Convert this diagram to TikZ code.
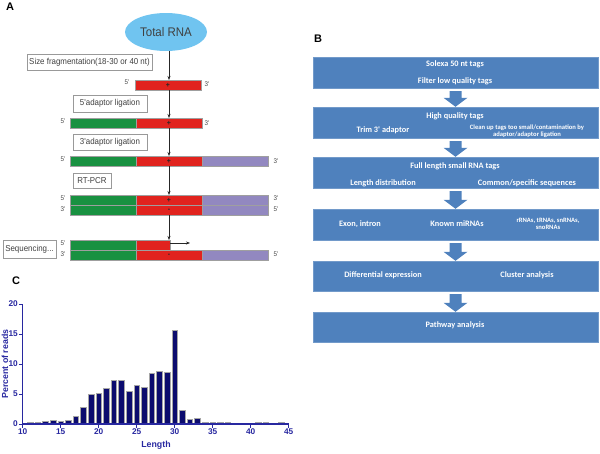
\documentclass[tikz,border=0pt]{standalone}
\usepackage{fontspec}
\setmainfont{Liberation Sans}
\newfontfamily\afont[FakeStretch=0.92]{Liberation Sans}
\newfontfamily\cfont{Carlito}
\usetikzlibrary{arrows.meta,shapes.geometric,calc}
\definecolor{skyb}{RGB}{112,196,240}
\definecolor{cred}{RGB}{225,35,30}
\definecolor{cgreen}{RGB}{25,145,65}
\definecolor{cpurple}{RGB}{146,136,192}
\definecolor{bblue}{RGB}{79,129,189}
\definecolor{axblue}{RGB}{40,40,160}
\definecolor{barfill}{RGB}{12,12,110}
\newcommand\bflowarrow[2]{%
  \fill[bblue] ($(#1.south)+(-6,3)$) -- ($(#1.south)+(6,3)$) -- ($(#2.north)+(6,-9)$) -- ($(#2.north)+(12,-9)$) -- (#2.north) -- ($(#2.north)+(-12,-9)$) -- ($(#2.north)+(-6,-9)$) -- cycle;}
\begin{document}
\begin{tikzpicture}[x=1pt,y=-1pt,
  seg/.style={draw=gray!75, line width=0.4pt, minimum height=10pt, inner sep=0pt, outer sep=0pt, font=\bfseries\fontsize{7}{7}\selectfont, text=black!85},
  stepbx/.style={draw=gray!80, line width=0.5pt, fill=white, font=\afont\fontsize{8.6}{9.5}\selectfont, text=black!75, inner sep=1pt},
  endl/.style={font=\afont\fontsize{6.8}{7}\selectfont, text=black!70, inner sep=0pt},
  flow/.style={-{Stealth[length=4pt,width=3pt]}, black!85, line width=0.5pt},
  bbox/.style={fill=bblue, draw=bblue!80!white, line width=0.4pt, minimum width=285pt, inner sep=0pt},
  btxt/.style={text=white, font=\cfont\bfseries\fontsize{8.3}{9}\selectfont, align=center, inner sep=0pt},
  bsmall/.style={text=white, font=\cfont\bfseries\fontsize{6.6}{7.4}\selectfont, align=center, inner sep=0pt},
  panel/.style={font=\bfseries\fontsize{11}{12}\selectfont, inner sep=0pt},
  ctick/.style={text=axblue, font=\bfseries\fontsize{8.3}{9}\selectfont, inner sep=0pt},
  barst/.style={fill=barfill, draw=gray!70, line width=0.6pt}
]
\useasboundingbox (0,0) rectangle (600,453);

% ---------------- Panel A ----------------
\node[panel] (lA) at (10,6.5) {A};
\node[ellipse, fill=skyb, minimum width=82pt, minimum height=38pt, inner sep=0pt,
      font=\afont\fontsize{12.5}{13}\selectfont, text=black!75] (rna) at (166,32) {Total RNA};

% bar 1
\node[seg, fill=cred, minimum width=66pt] (r1) at (168,85) {+};
% bar 2
\node[seg, fill=cgreen, minimum width=66pt] (g2) at (103,123) {};
\node[seg, fill=cred, minimum width=66pt] (r2) at (169,123) {+};
% bar 3
\node[seg, fill=cgreen, minimum width=66pt] (g3) at (103,161) {};
\node[seg, fill=cred, minimum width=66pt] (r3) at (169,161) {+};
\node[seg, fill=cpurple, minimum width=66pt] (p3) at (235,161) {};
% bar 4
\node[seg, fill=cgreen, minimum width=66pt] (g4a) at (103,200) {};
\node[seg, fill=cred, minimum width=66pt] (r4a) at (169,200) {+};
\node[seg, fill=cpurple, minimum width=66pt] (p4a) at (235,200) {};
\node[seg, fill=cgreen, minimum width=66pt] (g4b) at (103,210) {};
\node[seg, fill=cred, minimum width=66pt] (r4b) at (169,210) {-};
\node[seg, fill=cpurple, minimum width=66pt] (p4b) at (235,210) {};
% bar 5
\node[seg, fill=cgreen, minimum width=66pt] (g5a) at (103,245) {};
\node[seg, fill=cred, minimum width=34pt] (r5a) at (153,245) {};
\node[seg, fill=cgreen, minimum width=66pt] (g5b) at (103,255) {};
\node[seg, fill=cred, minimum width=66pt] (r5b) at (169,255) {-};
\node[seg, fill=cpurple, minimum width=66pt] (p5b) at (235,255) {};

% end labels
\node[endl] (e1l) at (127,82) {5'};
\node[endl] (e1r) at (207,84) {3'};
\node[endl] (e2l) at (63,121) {5'};
\node[endl] (e2r) at (207,123) {3'};
\node[endl] (e3l) at (63,159) {5'};
\node[endl] (e3r) at (276,161) {3'};
\node[endl] (e4l1) at (63,198) {5'};
\node[endl] (e4l2) at (63,209) {3'};
\node[endl] (e4r1) at (276,198) {3'};
\node[endl] (e4r2) at (276,209) {5'};
\node[endl] (e5l1) at (63,243) {5'};
\node[endl] (e5l2) at (63,254) {3'};
\node[endl] (e5r) at (276,254) {5'};

% step boxes
\node[stepbx, minimum width=125pt, minimum height=16pt] (s1) at (89.5,62) {Size fragmentation(18-30 or 40 nt)};
\node[stepbx, minimum width=74pt, minimum height=17pt] (s2) at (110,103.5) {5'adaptor ligation};
\node[stepbx, minimum width=74pt, minimum height=16pt] (s3) at (110,142) {3'adaptor ligation};
\node[stepbx, minimum width=38pt, minimum height=15pt] (s4) at (92,180.5) {RT-PCR};
\node[stepbx, minimum width=53pt, minimum height=18pt] (s5) at (29.5,249) {Sequencing...};

% connectors
\draw[flow] (rna.south -| r2) -- (r2 |- r1.north);
\draw[flow] (r2 |- r1.south) -- (r2.north);
\draw[flow] (r2.south) -- (r3.north);
\draw[flow] (r3.south) -- (r4a.north);
\draw[flow] (r4b.south) -- (r4b.south |- r5a.north);
\coordinate (seqend) at (190,243);
\draw[flow] (r5a.east |- seqend) -- (seqend);

% ---------------- Panel B ----------------
\node[panel] (lB) at (318,39) {B};
\node[bbox, minimum height=31pt] (n1) at (455.5,72.5) {};
\node[bbox, minimum height=31pt] (n2) at (455.5,122.5) {};
\node[bbox, minimum height=31pt] (n3) at (455.5,172.5) {};
\node[bbox, minimum height=31pt] (n4) at (455.5,224.5) {};
\node[bbox, minimum height=30pt] (n5) at (455.5,276) {};
\node[bbox, minimum height=30pt] (n6) at (455.5,327) {};
\bflowarrow{n1}{n2}
\bflowarrow{n2}{n3}
\bflowarrow{n3}{n4}
\bflowarrow{n4}{n5}
\bflowarrow{n5}{n6}

\node[btxt] (t11) at (455,64) {Solexa 50 nt tags};
\node[btxt] (t12) at (455,81) {Filter low quality tags};
\node[btxt] (t21) at (455,116) {High quality tags};
\node[btxt] (t22) at (383,130) {Trim 3' adaptor};
\node[bsmall] (t23) at (527,131) {Clean up tags too small/contamination\ by\\adaptor/adaptor ligation};
\node[btxt] (t31) at (455,166) {Full length small RNA tags};
\node[btxt] (t32) at (383,183) {Length distribution};
\node[btxt] (t33) at (527,183) {Common/specific sequences};
\node[btxt] (t41) at (360,224) {Exon, intron};
\node[btxt] (t42) at (457,224) {Known miRNAs};
\node[bsmall] (t43) at (548,224) {rRNAs, tRNAs, snRNAs,\\snoRNAs};
\node[btxt] (t51) at (383,275) {Differential expression};
\node[btxt] (t52) at (527,275) {Cluster analysis};
\node[btxt] (t61) at (455,325) {Pathway analysis};

% ---------------- Panel C ----------------
\node[panel] (lC) at (16,281) {C};
\foreach \v/\h in {11/0.35,12/0.35,13/0.4,14/0.6,15/0.45,16/0.7,17/1.3,18/2.8,19/4.9,20/5.2,21/5.95,22/7.3,23/7.3,24/5.5,25/6.4,26/6.1,27/8.5,28/8.75,29/8.65,30/15.7,31/2.35,32/0.8,33/1.0,34/0.35,35/0.35,36/0.35,37/0.35,41/0.35,42/0.35,44/0.35}
  \draw[barst] ({22.7+7.6*(\v-10)-2.8},424) rectangle ({22.7+7.6*(\v-10)+2.8},{424-6*\h});
\draw[axblue, line width=1.3pt] (22.7,304) -- (22.7,424) -- (289,424);
\foreach \t in {0,5,10,15,20} {
  \draw[axblue, line width=1pt] (19,{424-6*\t}) -- (22.7,{424-6*\t});
  \node[ctick, anchor=east] at (18,{424-6*\t}) {\t};
}
\foreach \t in {10,15,...,45} {
  \draw[axblue, line width=1pt] ({22.7+7.6*(\t-10)},424) -- ({22.7+7.6*(\t-10)},427.5);
  \node[ctick, anchor=north] at ({22.7+7.6*(\t-10)},428.5) {\t};
}
\node[text=axblue, font=\bfseries\fontsize{8.8}{9}\selectfont, inner sep=0pt] (xlab) at (156,445) {Length};
\node[text=axblue, font=\bfseries\fontsize{8.8}{9}\selectfont, inner sep=0pt, rotate=90] (ylab) at (5,364) {Percent of reads};
\end{tikzpicture}
\end{document}
